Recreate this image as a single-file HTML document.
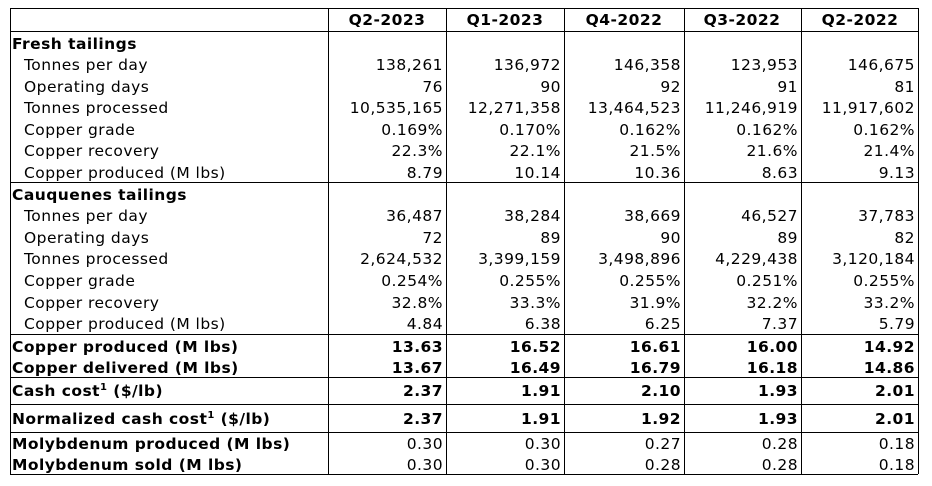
<!DOCTYPE html>
<html><head><meta charset="utf-8"><style>
body{margin:0;background:#fff;width:932px;height:486px;position:relative;font-family:"DejaVu Sans","Liberation Sans",sans-serif;font-size:15.5px;letter-spacing:0.45px;color:#000;overflow:hidden}
.v{position:absolute;top:8px;height:466px;border-left:1px solid #000}
.h{position:absolute;left:10px;width:908px;border-top:1px solid #000}
.r{position:absolute;left:0;width:0;height:20px;line-height:20px;white-space:nowrap}
.r span{position:absolute;top:0}
.r .l{left:12px}
.r .i{left:24px}
.c1{right:-443px}.c2{right:-561px}.c3{right:-681px}.c4{right:-798px}.c5{right:-915px}
.b{font-weight:bold}
sup{font-size:10px;line-height:0;vertical-align:6px}
</style></head><body>
<div class="h" style="top:8px"></div>
<div class="h" style="top:31px"></div>
<div class="h" style="top:182px"></div>
<div class="h" style="top:334px"></div>
<div class="h" style="top:377px"></div>
<div class="h" style="top:404px"></div>
<div class="h" style="top:432px"></div>
<div class="h" style="top:474px"></div>
<div class="v" style="left:10px"></div>
<div class="v" style="left:328px"></div>
<div class="v" style="left:446px"></div>
<div class="v" style="left:564px"></div>
<div class="v" style="left:684px"></div>
<div class="v" style="left:801px"></div>
<div class="v" style="left:918px"></div>

<div id="t"></div>
<script>
var rows=[
[10,"",["Q2-2023","Q1-2023","Q4-2022","Q3-2022","Q2-2022"],"hd"],
[34,"Fresh tailings",null,"bl"],
[55,"Tonnes per day",["138,261","136,972","146,358","123,953","146,675"]],
[77,"Operating days",["76","90","92","91","81"]],
[98,"Tonnes processed",["10,535,165","12,271,358","13,464,523","11,246,919","11,917,602"]],
[120,"Copper grade",["0.169%","0.170%","0.162%","0.162%","0.162%"]],
[141,"Copper recovery",["22.3%","22.1%","21.5%","21.6%","21.4%"]],
[163,"Copper produced (M lbs)",["8.79","10.14","10.36","8.63","9.13"]],
[185,"Cauquenes tailings",null,"bl"],
[206,"Tonnes per day",["36,487","38,284","38,669","46,527","37,783"]],
[228,"Operating days",["72","89","90","89","82"]],
[249,"Tonnes processed",["2,624,532","3,399,159","3,498,896","4,229,438","3,120,184"]],
[271,"Copper grade",["0.254%","0.255%","0.255%","0.251%","0.255%"]],
[293,"Copper recovery",["32.8%","33.3%","31.9%","32.2%","33.2%"]],
[314,"Copper produced (M lbs)",["4.84","6.38","6.25","7.37","5.79"]],
[337,"Copper produced (M lbs)",["13.63","16.52","16.61","16.00","14.92"],"bb"],
[358,"Copper delivered (M lbs)",["13.67","16.49","16.79","16.18","14.86"],"bb"],
[381,"Cash cost<sup>1</sup> ($/lb)",["2.37","1.91","2.10","1.93","2.01"],"bb"],
[409,"Normalized cash cost<sup>1</sup> ($/lb)",["2.37","1.91","1.92","1.93","2.01"],"bb"],
[434,"Molybdenum produced (M lbs)",["0.30","0.30","0.27","0.28","0.18"],"bl"],
[455,"Molybdenum sold (M lbs)",["0.30","0.30","0.28","0.28","0.18"],"bl"]
];
var hx=[387,505,624,742,860];
var h="";
rows.forEach(function(r){
 var t=r[3]||"";
 h+='<div class="r" style="top:'+r[0]+'px">';
 if(r[1]) h+='<span class="'+(t?'l b':'i')+'">'+r[1]+'</span>';
 if(r[2]) r[2].forEach(function(v,k){
  if(t=="hd") h+='<span class="b" style="left:'+hx[k]+'px;transform:translateX(-50%)">'+v+'</span>';
  else h+='<span class="c'+(k+1)+(t=="bb"?' b':'')+'">'+v+'</span>';
 });
 h+='</div>';
});
document.getElementById("t").innerHTML=h;
</script>
</body></html>
